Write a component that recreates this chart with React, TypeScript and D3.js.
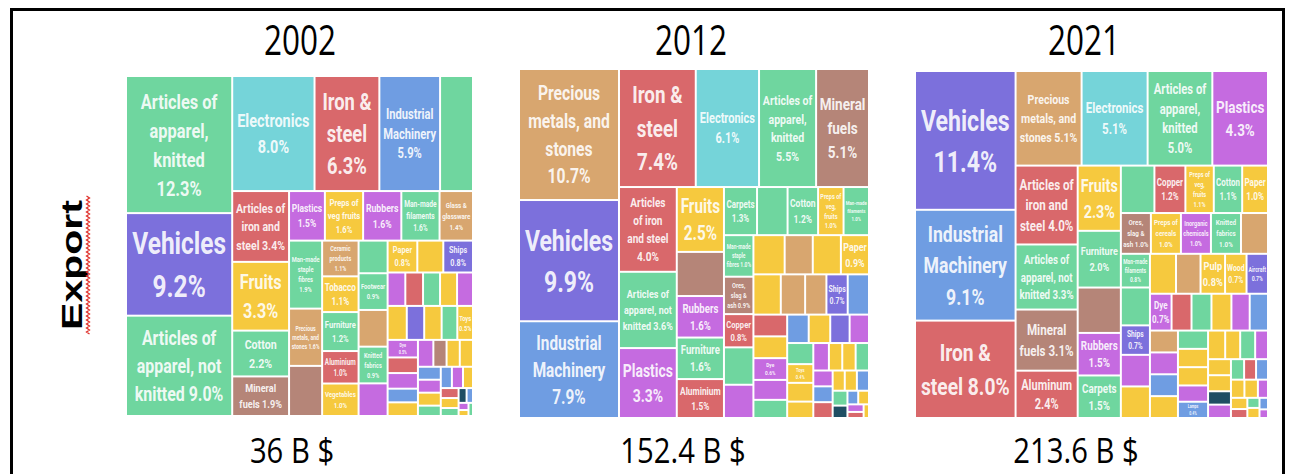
import React from 'react';
import * as d3 from 'd3';

// ---------- colours per sector code ----------
const SECTOR_COLORS: Record<string, string> = {
  g: '#6fd69f', // textiles (green)
  c: '#75d4d9', // electronics (cyan)
  r: '#d9686b', // metals (red)
  b: '#6f9de2', // machinery (blue)
  v: '#7c70dc', // transportation (violet)
  p: '#c56be0', // plastics / chemicals (purple)
  y: '#f6c93e', // foodstuffs & misc (yellow)
  m: '#b58578', // mineral products (brown)
  t: '#d8a66f', // precious metals / stone (tan)
  k: '#1f4e63', // dark teal
};

const years = ['2002', '2012', '2021'];
const totals = ['36 B $', '152.4 B $', '213.6 B $'];

// ---------- 2002 ----------
const names2002 = [
  'Articles of\napparel,\nknitted\n%v', 'Vehicles\n%v', 'Articles of\napparel, not\nknitted %v',
  'Electronics\n%v', 'Iron &\nsteel\n%v', 'Industrial\nMachinery\n%v', '',
  'Articles of\niron and\nsteel %v', 'Fruits\n%v', 'Cotton\n%v', 'Mineral\nfuels %v',
  'Plastics\n%v', 'Preps of\nveg fruits\n%v', 'Rubbers\n%v', 'Man-made\nfilaments\n%v', 'Glass &\nglassware\n%v',
  'Man-made\nstaple\nfibres\n%v', 'Precious\nmetals, and\nstones %v', '',
  'Ceramic\nproducts\n%v', 'Tobacco\n%v', 'Furniture\n%v', 'Aluminium\n%v', 'Vegetables\n%v',
  '', 'Footwear\n%v', '', 'Knitted\nfabrics\n%v', '',
  'Paper\n%v', '', 'Ships\n%v',
  '', '', '', '', '',
  '', '', '', '', 'Toys\n%v', 'Dye\n%v', '', '', '', '', '', '', '', '', '', '', '',
  '', '', '', '', '', '', '', '', '', '', '', '',
];
const values2002 = [
  12.3, 9.2, 9.0,
  8.0, 6.3, 5.9, 3.2,
  3.4, 3.3, 2.2, 1.9,
  1.5, 1.6, 1.6, 1.6, 1.4,
  1.9, 1.6, 1.4,
  1.1, 1.1, 1.2, 1.0, 1.0,
  0.8, 0.9, 0.9, 0.9, 0.8,
  0.8, 0.7, 0.8,
  0.5, 0.5, 0.48, 0.48, 0.45,
  0.55, 0.5, 0.5, 0.45, 0.45, 0.45, 0.4, 0.4, 0.35, 0.35, 0.35, 0.3, 0.3, 0.3, 0.25, 0.25, 0.25,
  0.2, 0.2, 0.2, 0.18, 0.15, 0.15, 0.12, 0.1, 0.08, 0.06, 0.05, 0.05,
];
const sectors2002 = [
  'g', 'v', 'g',
  'c', 'r', 'b', 'g',
  'r', 'y', 'g', 'm',
  'p', 'y', 'p', 'g', 't',
  'g', 't', 'm',
  't', 'y', 'g', 'r', 'y',
  'g', 'g', 't', 'g', 'p',
  'y', 'y', 'v',
  'p', 'r', 'g', 'y', 'p',
  'y', 'v', 'y', 'g', 'y', 'p', 'r', 'p', 'b', 'y', 'p', 'm', 'y', 'y', 'b', 'p', 'y',
  'g', 'b', 'p', 'y', 'r', 'y', 'g', 'k', 'b', 'p', 'y', 'g',
];
const rows2002: [string, number][] = [['v', 3], ['h', 4], ['v', 4], ['h', 5], ['v', 3], ['v', 5], ['v', 5], ['h', 3], ['h', 5]];

// ---------- 2012 ----------
const names2012 = [
  'Precious\nmetals, and\nstones\n%v', 'Vehicles\n%v', 'Industrial\nMachinery\n%v',
  'Iron &\nsteel\n%v', 'Electronics\n%v', 'Articles of\napparel,\nknitted\n%v', 'Mineral\nfuels\n%v',
  'Articles\nof iron\nand steel\n%v', 'Articles of\napparel, not\nknitted %v', 'Plastics\n%v',
  'Fruits\n%v', '', 'Rubbers\n%v', 'Furniture\n%v', 'Aluminium\n%v',
  'Carpets\n%v', '', 'Cotton\n%v', 'Preps of\nveg,\nfruits\n%v', 'Man-made\nfilaments\n%v',
  'Man-made\nstaple\nfibres %v', 'Ores,\nslag &\nash %v', 'Copper\n%v', '', '',
  '', '', '', 'Paper\n%v', '', '', '', 'Ships\n%v', '', '', '', 'Dye\n%v', '',
  '', '', '', '', '', '', 'Toys\n%v', '', '', '', '', '', '', '', '', '', '',
  '', '', '', '', '', '', '', '', '', '',
];
const values2012 = [
  10.7, 9.9, 7.9,
  7.4, 6.1, 5.5, 5.1,
  4.0, 3.6, 3.3,
  2.5, 1.7, 1.6, 1.6, 1.5,
  1.3, 1.2, 1.2, 1.0, 1.0,
  1.0, 0.9, 0.8, 0.9, 0.8,
  1.0, 0.9, 0.9, 0.9, 0.9, 0.8, 0.7, 0.7, 0.7, 0.6, 0.6, 0.6, 0.55,
  0.5, 0.5, 0.5, 0.45, 0.45, 0.45, 0.4, 0.4, 0.35, 0.35, 0.3, 0.3, 0.3, 0.25, 0.25, 0.25,
  0.2, 0.2, 0.2, 0.18, 0.15, 0.12, 0.12, 0.1, 0.08, 0.06,
];
const sectors2012 = [
  't', 'v', 'b',
  'r', 'c', 'g', 'm',
  'r', 'g', 'p',
  'y', 'm', 'p', 'g', 'r',
  'g', 'g', 'g', 'y', 'g',
  'g', 'm', 'r', 'g', 'p',
  'y', 't', 'y', 'y', 'y', 't', 't', 'v', 'b', 'r', 'y', 'p', 'p',
  'g', 'b', 'y', 'v', 'p', 'g', 'y', 'y', 'y', 'p', 'y', 'y', 'g', 'p', 'b', 'r',
  'y', 'y', 'b', 'g', 'k', 'b', 'y', 'p', 'r', 'y',
];
const rows2012: [string, number][] = [['v', 3], ['h', 4], ['v', 3], ['v', 5], ['h', 5], ['v', 5]];

// ---------- 2021 ----------
const names2021 = [
  'Vehicles\n%v', 'Industrial\nMachinery\n%v', 'Iron &\nsteel %v',
  'Precious\nmetals, and\nstones %v', 'Electronics\n%v', 'Articles of\napparel,\nknitted\n%v', 'Plastics\n%v',
  'Articles of\niron and\nsteel %v', 'Articles of\napparel, not\nknitted %v', 'Mineral\nfuels %v', 'Aluminum\n%v',
  'Fruits\n%v', 'Furniture\n%v', '', 'Rubbers\n%v', 'Carpets\n%v',
  '', 'Copper\n%v', 'Preps of\nveg,\nfruits\n%v', 'Cotton\n%v', 'Paper\n%v',
  'Ores,\nslag &\nash %v', 'Preps of\ncereals\n%v', 'Inorganic\nchemicals\n%v', 'Knitted\nfabrics\n%v', '',
  'Man-made\nfilaments\n%v', '', 'Ships\n%v', '', '',
  '', '', 'Pulp\n%v', 'Wood\n%v', 'Aircraft\n%v', 'Dye\n%v', '', '', '', '', '', '', '', '', '',
  '', '', '', '', 'Lamps\n%v', '', '', '', '', '', '', '', '', '', '', '', '', '',
  '', '', '', '', '', '', '',
];
const values2021 = [
  11.4, 9.1, 8.0,
  5.1, 5.1, 5.0, 4.3,
  4.0, 3.3, 3.1, 2.4,
  2.3, 2.0, 1.6, 1.5, 1.5,
  1.3, 1.2, 1.1, 1.1, 1.0,
  1.0, 1.0, 1.0, 1.0, 0.9,
  0.8, 0.9, 0.7, 0.75, 0.75,
  0.85, 0.8, 0.8, 0.7, 0.7, 0.65, 0.6, 0.6, 0.6, 0.55, 0.55, 0.5, 0.5, 0.5, 0.5,
  0.45, 0.45, 0.45, 0.4, 0.4, 0.4, 0.35, 0.35, 0.3, 0.3, 0.3, 0.25, 0.25, 0.22, 0.2, 0.2, 0.2, 0.2,
  0.15, 0.15, 0.12, 0.1, 0.1, 0.08, 0.06,
];
const sectors2021 = [
  'v', 'b', 'r',
  't', 'c', 'g', 'p',
  'r', 'g', 'm', 'r',
  'y', 'g', 'm', 'p', 'g',
  'g', 'r', 'y', 'g', 'y',
  'm', 'y', 'p', 'g', 't',
  'g', 'g', 'v', 'p', 'y',
  'y', 't', 'y', 'y', 'v', 'p', 'r', 'g', 'y', 'p', 'b', 't', 'p', 'b', 'y',
  'g', 'y', 'y', 'p', 'b', 'y', 'y', 'g', 'p', 'y', 'y', 'k', 'p', 'g', 'r', 'b', 'y', 'y',
  'p', 'y', 'r', 'g', 'y', 'b', 'p',
];
const rows2021: [string, number][] = [['v', 3], ['h', 4], ['v', 4], ['v', 5], ['h', 5], ['h', 5], ['v', 5]];

// ---------- layout (positions only) ----------
const PANELS = [
  { x: 127, y: 77, w: 345, h: 338, tx: 300 },
  { x: 520, y: 70, w: 348, h: 347, tx: 691 },
  { x: 916, y: 72, w: 351, h: 345, tx: 1084 },
];
const DATA = [
  { names: names2002, values: values2002, sectors: sectors2002, rows: rows2002 },
  { names: names2012, values: values2012, sectors: sectors2012, rows: rows2012 },
  { names: names2021, values: values2021, sectors: sectors2021, rows: rows2021 },
];

const LABEL_FONT = 'Roboto, "Liberation Sans", sans-serif';
const SQX = 0.78; // horizontal squeeze of the label glyphs
const LH = 1.38;

let measureCtx: CanvasRenderingContext2D | null = null;
function measure(text: string, px: number): number {
  if (!measureCtx) measureCtx = document.createElement('canvas').getContext('2d');
  if (!measureCtx) return text.length * px * 0.5;
  measureCtx.font = `bold ${px}px Roboto`;
  return measureCtx.measureText(text).width;
}

// squarify-style tiling with given row orientations for the leading rows
function guidedTile(rows: [string, number][]) {
  return (parent: any, x0: number, y0: number, x1: number, y1: number) => {
    const nodes = parent.children;
    let i = 0;
    let remaining = parent.value;
    for (const [dir, n] of rows) {
      const group = nodes.slice(i, i + n);
      const s = d3.sum(group, (d: any) => d.value);
      const f = remaining > 0 ? s / remaining : 0;
      const row: any = { children: group, value: s };
      if (dir === 'v') {
        const xm = x0 + (x1 - x0) * f;
        d3.treemapSlice(row, x0, y0, xm, y1);
        x0 = xm;
      } else {
        const ym = y0 + (y1 - y0) * f;
        d3.treemapDice(row, x0, y0, x1, ym);
        y0 = ym;
      }
      remaining -= s;
      i += n;
    }
    const rest = nodes.slice(i);
    if (rest.length) {
      d3.treemapSquarify({ children: rest, value: d3.sum(rest, (d: any) => d.value) } as any, x0, y0, x1, y1);
    }
  };
}

function Treemap({ idx }: { idx: number }) {
  const P = PANELS[idx];
  const D = DATA[idx];
  const items = D.names.map((n, i) => ({ name: n, value: D.values[i], sector: D.sectors[i] }));
  const root = d3.hierarchy<any>({ children: items }).sum((d: any) => d.value || 0);
  d3.treemap<any>().tile(guidedTile(D.rows) as any).size([P.w, P.h]).paddingInner(2)(root);
  const leaves = root.leaves() as any[];
  return (
    <g transform={`translate(${P.x},${P.y})`}>
      {leaves.map((l, i) => {
        const w = l.x1 - l.x0;
        const h = l.y1 - l.y0;
        const label = l.data.name ? l.data.name.replace('%v', `${l.data.value.toFixed(1)}%`) : '';
        let txt: any = null;
        if (label) {
          const lines = label.split('\n');
          const base = Math.max(...lines.map((s: string) => measure(s, 10))) / 10;
          const fsW = (0.9 * w) / (base * SQX);
          const fsH = (0.86 * h) / (lines.length * LH);
          const fs = Math.min(fsW, fsH, 36);
          if (fs >= 3.2) {
            const cx = l.x0 + w / 2;
            const cy = l.y0 + h / 2;
            txt = (
              <text
                transform={`translate(${cx},${cy}) scale(${SQX},1)`}
                textAnchor="middle"
                fontFamily={LABEL_FONT}
                fontWeight="bold"
                fontSize={fs}
                fill="#ffffff"
                fillOpacity={0.9}
              >
                {lines.map((s: string, j: number) => (
                  <tspan key={j} x={0} y={(j - (lines.length - 1) / 2) * LH * fs + 0.36 * fs}>
                    {s}
                  </tspan>
                ))}
              </text>
            );
          }
        }
        return (
          <g key={i}>
            <rect x={l.x0} y={l.y0} width={Math.max(0, w)} height={Math.max(0, h)} fill={SECTOR_COLORS[l.data.sector]} />
            {txt}
          </g>
        );
      })}
    </g>
  );
}

export default function App() {
  const squiggle = d3.range(196, 336, 2).map((y, i) => `${i === 0 ? 'M' : 'L'}${i % 2 ? 89.5 : 86.5},${y}`).join('');
  return (
    <svg
      width={1294}
      height={474}
      style={{ position: 'absolute', left: 0, top: 0, display: 'block', background: '#fff' }}
    >
      <rect x={0} y={0} width={1294} height={474} fill="#fff" />
      <rect x={11.5} y={9.5} width={1272} height={520} fill="none" stroke="#000" strokeWidth={3} />
      {PANELS.map((P, i) => (
        <g key={i}>
          <text
            transform={`translate(${P.tx},55) scale(0.75,1)`}
            textAnchor="middle"
            fontFamily='"Open Sans", sans-serif'
            fontSize={42}
            fill="#000"
          >
            {years[i]}
          </text>
          <Treemap idx={i} />
          <text
            transform={`translate(${P.tx - 8},463) scale(0.86,1)`}
            textAnchor="middle"
            fontFamily='"Open Sans", sans-serif'
            fontSize={34}
            fill="#000"
          >
            {totals[i]}
          </text>
        </g>
      ))}
      <text
        transform="translate(82,265) rotate(-90) scale(1,0.72)"
        textAnchor="middle"
        fontFamily='"Liberation Sans", Arial, sans-serif'
        fontWeight="bold"
        fontSize={41}
        fill="#000"
      >
        Export
      </text>
      <path d={squiggle} fill="none" stroke="#e0302a" strokeWidth={1.3} />
    </svg>
  );
}
